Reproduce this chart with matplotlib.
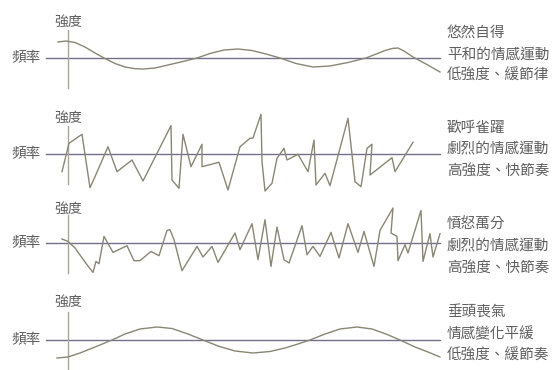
import matplotlib.pyplot as plt

plt.rcParams['font.family'] = ['Noto Sans CJK TC', 'DejaVu Sans']

# time (px from the intensity axis) and intensity (px above the baseline)
calm_t = [-10, -2, 7, 17, 27, 36, 47, 57, 67, 75, 87, 100, 115, 129, 142, 156, 170,
          184, 198, 212, 228, 245, 262, 280, 298, 307, 317, 324, 330, 336, 345, 358, 372]
calm_y = [16, 17, 15.5, 11, 5, 0, -5.5, -9, -10.7, -11, -10, -7, -3.5, 0, 4.5, 8, 9,
          7.5, 4, 0, -5.5, -9, -8, -4.5, 0, 3.5, 7.5, 9.5, 10, 7, 1, -6, -14]

joy_t = [-6, 1, 14, 22, 27, 40, 49, 64, 75, 103, 104, 111, 115, 123, 134, 134, 151,
         160, 172, 182, 185, 193, 194, 197, 204, 209, 216, 219, 230, 240, 246, 248,
         257, 262, 280, 287, 293, 299, 304, 302, 324, 327, 345]
joy_y = [-17.7, 10.7, 19.7, -33.7, -22.7, 7.3, -17.7, -6, -27, 28.3, -26, -34.3, 19.7,
         -12.7, 9.7, -12.7, -8.3, -36, 7.3, 15.7, 16, 39.7, -7.7, -37, -29.3, -4.3,
         5.7, -6, -0.3, -17.7, 14, -31, -19.3, -31.7, 35.7, -27.7, -32.7, 5.7, 9.7,
         -21, -3.7, -17.7, 11.7]

anger_t = [-6, 0, 7, 19, 25, 28, 31, 36, 45, 59, 66, 72, 83, 91, 99, 102, 106, 114,
           129, 135, 144, 150, 167, 172, 184, 190, 197, 203, 209, 216, 221, 234, 239,
           245, 252, 263, 271, 280, 290, 296, 306, 312, 325, 323, 329, 330, 337, 340,
           353, 355, 362, 365, 372]
anger_y = [4, 1.6, -5, -21.7, -29.4, -18.4, -20.7, 6.6, -9.4, -2.7, -17.7, -17.7, -8.4,
           -12.7, 12.6, 13.3, 3.3, -27.7, -3.4, -14, -3.4, -19.4, 10, -6.7, 19.3, -16.7,
           23.3, -23.4, 16, -16.7, -20, 17.3, -11.7, -3.4, -13.4, 10.6, -15, 19.3, -9.4,
           11.6, -23.4, 12.6, 35, 10, 6.6, -17.7, -1.7, -10, 32.6, -18.4, 9.3, -14, 9.3]

sad_t = [-11, 0, 12, 27, 44, 57, 72, 89, 104, 120, 135, 150, 167, 185, 202, 217, 230,
         242, 257, 272, 289, 304, 318, 332, 347, 360, 372]
sad_y = [-18, -17, -13, -7, 0, 6, 11, 13, 11.5, 6, 0, -6, -11, -13, -11.5, -8, -4,
         0, 6, 11, 13, 11, 6, 0, -7, -12, -17]

series = [(calm_t, calm_y), (joy_t, joy_y), (anger_t, anger_y), (sad_t, sad_y)]
captions = [
    ['悠然自得', '平和的情感運動', '低強度、緩節律'],
    ['歡呼雀躍', '劇烈的情感運動', '高強度、快節奏'],
    ['憤怒萬分', '劇烈的情感運動', '高強度、快節奏'],
    ['垂頭喪氣', '情感變化平緩', '低強度、緩節奏'],
]

baselines = [58, 154, 243, 340]
first_line = [33, 128, 225, 313]
label_up = [36, 36, 34, 38]

fig = plt.figure(figsize=(5.56, 3.70), dpi=100)
fig.patch.set_facecolor('white')

line_c = '#8a8674'
axis_c = '#75708a'
text_c = '#5f5f5f'

for i, (t, y) in enumerate(series):
    base = baselines[i]
    ax = fig.add_axes([0, 0, 1, 1])
    ax.set_xlim(-68, 488)
    ax.set_ylim(base - 370, base)
    ax.axis('off')
    ax.patch.set_alpha(0)

    ax.plot([-22, 372], [0, 0], color=axis_c, lw=1.0)
    ax.plot([0, 0], [-30, 28], color='#a9a596', lw=1.0)
    ax.plot(t, y, color=line_c, lw=1.0)

    ax.text(0, label_up[i], '強度', ha='center', va='center', fontsize=10, color=text_c)
    ax.text(-42, 0, '頻率', ha='center', va='center', fontsize=10.5, color=text_c)
    for j, s in enumerate(captions[i]):
        ax.text(379, base - first_line[i] - 21.5 * j, s, ha='left', va='center',
                fontsize=10.5, color=text_c)

fig.savefig('out.png', dpi=100)
